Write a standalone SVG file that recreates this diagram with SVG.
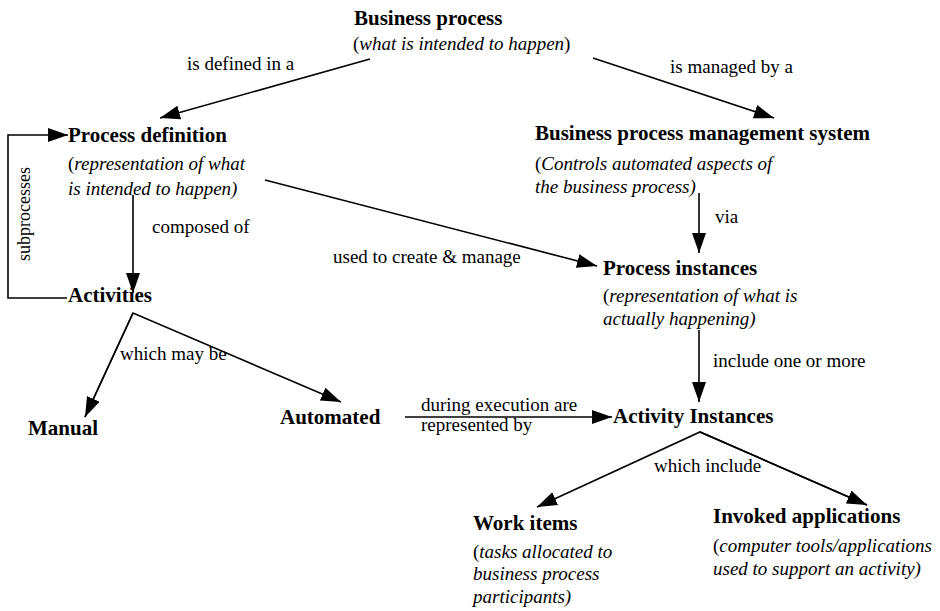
<svg xmlns="http://www.w3.org/2000/svg" width="940" height="611" viewBox="0 0 940 611" font-family="'Liberation Serif', 'DejaVu Serif', 'Times New Roman', Times, serif">
<style>
text{font-family:'Liberation Serif','DejaVu Serif','Times New Roman',Times,serif;fill:#000}
.t{font-weight:bold;font-size:21px}
.s{font-style:italic;font-size:19px}
.s tspan.p{font-style:normal}
.l{font-size:19px}
.c{fill:none;stroke:#000;stroke-width:1.6}
</style>
<defs>
<marker id="ah" markerUnits="userSpaceOnUse" markerWidth="22" markerHeight="16" refX="20" refY="7" orient="auto">
<path d="M0,0 L20,7 L0,14 z" fill="#000"/>
</marker>
</defs>
<rect width="940" height="611" fill="#fff"/>
<g id="connectors">
<line class="c" x1="370" y1="59" x2="160" y2="118" marker-end="url(#ah)"/>
<line class="c" x1="593" y1="58" x2="774" y2="118" marker-end="url(#ah)"/>
<polyline class="c" points="67,298 8,298 8,135 68,135" marker-end="url(#ah)"/>
<line class="c" x1="133" y1="195" x2="133" y2="293" marker-end="url(#ah)"/>
<line class="c" x1="265" y1="180" x2="597" y2="266" marker-end="url(#ah)"/>
<line class="c" x1="699" y1="193" x2="699" y2="253" marker-end="url(#ah)"/>
<polyline class="c" points="85,417 133,313 341,402" marker-end="url(#ah)"/>
<line class="c" x1="133" y1="313" x2="85" y2="417" marker-end="url(#ah)"/>
<line class="c" x1="405" y1="417" x2="612" y2="417" marker-end="url(#ah)"/>
<line class="c" x1="699" y1="330" x2="699" y2="402" marker-end="url(#ah)"/>
<polyline class="c" points="867,505 700,432 537,507" marker-end="url(#ah)"/>
<line class="c" x1="700" y1="432" x2="867" y2="505" marker-end="url(#ah)"/>
<text class="l" x="187" y="70">is defined in a</text>
<text class="l" x="670" y="73">is managed by a</text>
<text class="l" transform="translate(30,214) rotate(-90)" text-anchor="middle" style="font-size:18px">subprocesses</text>
<text class="l" x="152" y="233">composed of</text>
<text class="l" x="333" y="263">used to create &amp; manage</text>
<text class="l" x="715" y="223">via</text>
<text class="l" x="120" y="360">which may be</text>
<text class="l" x="713" y="367">include one or more</text>
<text class="l" x="421" y="411">during execution are</text>
<text class="l" x="421" y="431">represented by</text>
<text class="l" x="654" y="472">which include</text>
</g>
<g id="business-process">
<text class="t" x="354" y="25">Business process</text>
<text class="s" x="353" y="50"><tspan class="p">(</tspan>what is intended to happen<tspan class="p">)</tspan></text>
</g>
<g id="process-definition">
<text class="t" x="68" y="142">Process definition</text>
<text class="s" x="68" y="170"><tspan class="p">(</tspan>representation of what</text>
<text class="s" x="68" y="195">is intended to happen)</text>
</g>
<g id="bpms">
<text class="t" x="535" y="140">Business process management system</text>
<text class="s" x="535" y="170"><tspan class="p">(</tspan>Controls automated aspects of</text>
<text class="s" x="535" y="193">the business process)</text>
</g>
<g id="process-instances">
<text class="t" x="603" y="275">Process instances</text>
<text class="s" x="603" y="302"><tspan class="p">(</tspan>representation of what is</text>
<text class="s" x="603" y="325">actually happening)</text>
</g>
<g id="activities">
<text class="t" x="68" y="302">Activities</text>
</g>
<g id="manual">
<text class="t" x="28" y="435">Manual</text>
</g>
<g id="automated">
<text class="t" x="280" y="424">Automated</text>
</g>
<g id="activity-instances">
<text class="t" x="613" y="423">Activity Instances</text>
</g>
<g id="work-items">
<text class="t" x="473" y="530">Work items</text>
<text class="s" x="473" y="558"><tspan class="p">(</tspan>tasks allocated to</text>
<text class="s" x="473" y="580">business process</text>
<text class="s" x="473" y="603">participants)</text>
</g>
<g id="invoked-applications">
<text class="t" x="713" y="523">Invoked applications</text>
<text class="s" x="713" y="552"><tspan class="p">(</tspan>computer tools/applications</text>
<text class="s" x="713" y="575">used to support an activity)</text>
</g>
</svg>
